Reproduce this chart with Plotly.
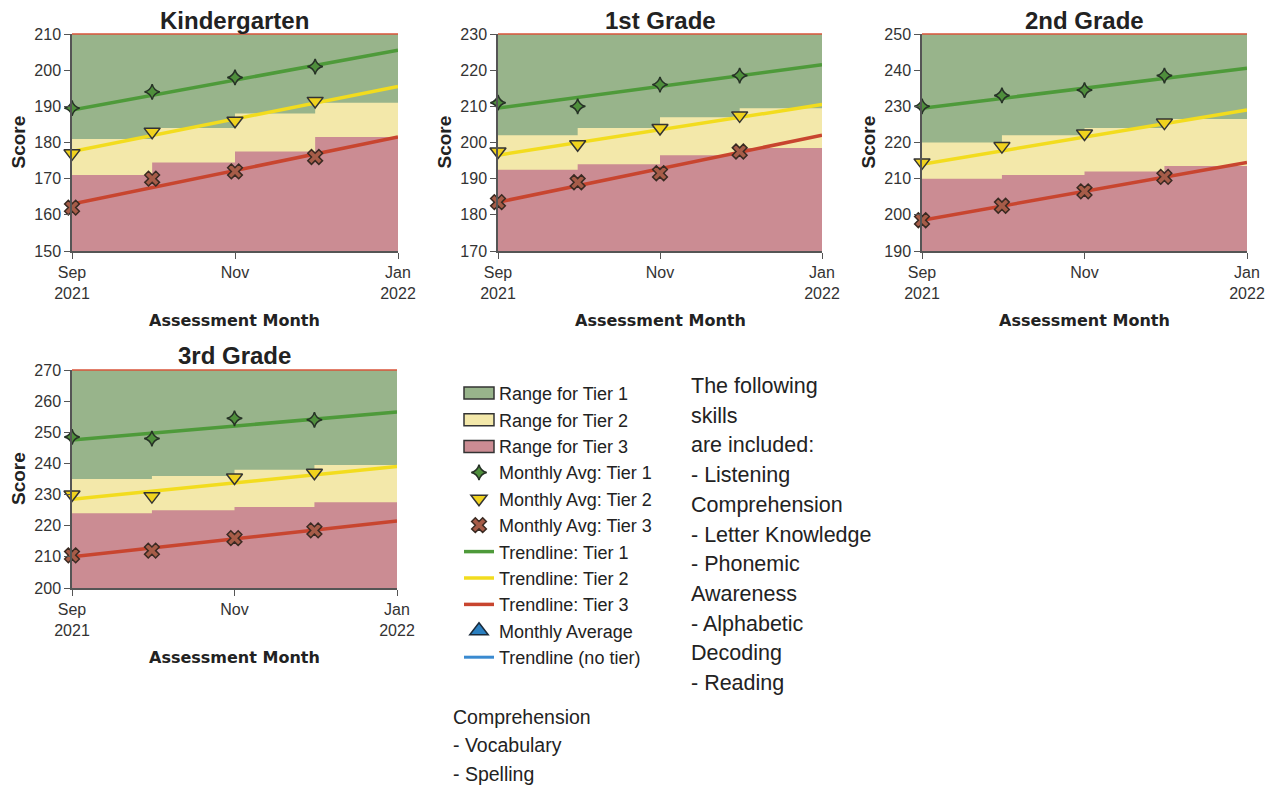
import plotly.graph_objects as go

# ---------------- data ----------------
grades = ["Kindergarten", "1st Grade", "2nd Grade", "3rd Grade"]
months = ["2021-09-01", "2021-10-01", "2021-11-01", "2021-12-01"]
band_edges = ["2021-09-01", "2021-10-01", "2021-11-01", "2021-12-01", "2022-01-01"]
trend_x = ["2021-09-01", "2022-01-01"]
tick_vals = ["2021-09-01", "2021-11-01", "2022-01-01"]
tick_text = ["Sep<br>2021", "Nov", "Jan<br>2022"]
y_min = [150, 170, 190, 200]
y_max = [210, 230, 250, 270]

k_tier1_avg = [189.5, 194, 198, 201]
k_tier2_avg = [177, 183, 186, 191.5]
k_tier3_avg = [162, 170, 172, 176]
k_tier1_trend = [189, 205.5]
k_tier2_trend = [177.5, 195.5]
k_tier3_trend = [163, 181.5]
k_tier2_top = [181, 184, 188, 191]
k_tier3_top = [171, 174.5, 177.5, 181.5]

g1_tier1_avg = [211, 210, 216, 218.5]
g1_tier2_avg = [197.5, 199.5, 204, 207.5]
g1_tier3_avg = [183.5, 189, 191.5, 197.5]
g1_tier1_trend = [209.5, 221.5]
g1_tier2_trend = [196.5, 210.5]
g1_tier3_trend = [183.5, 202]
g1_tier2_top = [202, 204, 207, 209.5]
g1_tier3_top = [192.5, 194, 196.5, 198.5]

g2_tier1_avg = [230, 233, 234.5, 238.5]
g2_tier2_avg = [214.5, 219, 222.5, 225.5]
g2_tier3_avg = [198.5, 202.5, 206.5, 210.5]
g2_tier1_trend = [229.5, 240.5]
g2_tier2_trend = [214, 229]
g2_tier3_trend = [198.5, 214.5]
g2_tier2_top = [220, 222, 224, 226.5]
g2_tier3_top = [210, 211, 212, 213.5]

g3_tier1_avg = [248.5, 248, 254.5, 254]
g3_tier2_avg = [230, 229.5, 235.5, 237]
g3_tier3_avg = [210.5, 212, 216, 218.5]
g3_tier1_trend = [247.5, 256.5]
g3_tier2_trend = [228.5, 239]
g3_tier3_trend = [210, 221.5]
g3_tier2_top = [235, 236, 238, 239.5]
g3_tier3_top = [224, 225, 226, 227.5]

legend_names = ["Range for Tier 1", "Range for Tier 2", "Range for Tier 3",
                "Monthly Avg: Tier 1", "Monthly Avg: Tier 2", "Monthly Avg: Tier 3",
                "Trendline: Tier 1", "Trendline: Tier 2", "Trendline: Tier 3",
                "Monthly Average", "Trendline (no tier)"]
note_lines = ["The following", "skills", "are included:", "- Listening", "Comprehension",
              "- Letter Knowledge", "- Phonemic", "Awareness", "- Alphabetic", "Decoding", "- Reading"]
bottom_lines = ["Comprehension", "- Vocabulary", "- Spelling"]

grade_data = [
    (k_tier1_avg, k_tier2_avg, k_tier3_avg, k_tier1_trend, k_tier2_trend, k_tier3_trend, k_tier2_top, k_tier3_top),
    (g1_tier1_avg, g1_tier2_avg, g1_tier3_avg, g1_tier1_trend, g1_tier2_trend, g1_tier3_trend, g1_tier2_top, g1_tier3_top),
    (g2_tier1_avg, g2_tier2_avg, g2_tier3_avg, g2_tier1_trend, g2_tier2_trend, g2_tier3_trend, g2_tier2_top, g2_tier3_top),
    (g3_tier1_avg, g3_tier2_avg, g3_tier3_avg, g3_tier1_trend, g3_tier2_trend, g3_tier3_trend, g3_tier2_top, g3_tier3_top),
]

# ---------------- style ----------------
W, H = 1272, 786
GREEN_BAND = "#98b48b"
YELLOW_BAND = "#f3e8aa"
RED_BAND = "#cb8c93"
T1_LINE = "#4e9a3a"
T2_LINE = "#f2dc1e"
T3_LINE = "#c8452f"
FONT = "Liberation Sans, Arial, sans-serif"


def px(x):
    return x / W


def py(y):
    return 1 - y / H


# plot areas in page pixels: (left, right, top, bottom)
areas = [(72, 398, 34, 251), (498, 822, 34, 251), (922, 1247, 34, 251), (72, 397, 370, 588)]
LEG_X, LEG_Y, LEG_ROW = 459, 375, 26.7   # legend placement (page pixels)

fig = go.Figure()

# legend-only range entries (symbol drawn as a box shape below)
for name, rank in [(legend_names[0], 1), (legend_names[1], 2), (legend_names[2], 3)]:
    fig.add_trace(go.Scatter(x=[None], y=[None], name=name, mode="lines",
                             line=dict(color="rgba(0,0,0,0)", width=0),
                             legendrank=rank, xaxis="x", yaxis="y"))

for i, (t1a, t2a, t3a, t1t, t2t, t3t, t2top, t3top) in enumerate(grade_data):
    xa = "x" if i == 0 else f"x{i+1}"
    ya = "y" if i == 0 else f"y{i+1}"
    first = i == 0
    top_vals = [y_max[i]] * (len(band_edges))
    fig.add_trace(go.Scatter(x=band_edges, y=top_vals, mode="lines", line=dict(width=0, shape="hv"),
                             fill="tozeroy", fillcolor=GREEN_BAND, showlegend=False, hoverinfo="skip",
                             xaxis=xa, yaxis=ya))
    fig.add_trace(go.Scatter(x=band_edges, y=t2top + [t2top[-1]], mode="lines",
                             line=dict(width=0, shape="hv"), fill="tozeroy", fillcolor=YELLOW_BAND,
                             showlegend=False, hoverinfo="skip", xaxis=xa, yaxis=ya))
    fig.add_trace(go.Scatter(x=band_edges, y=t3top + [t3top[-1]], mode="lines",
                             line=dict(width=0, shape="hv"), fill="tozeroy", fillcolor=RED_BAND,
                             showlegend=False, hoverinfo="skip", xaxis=xa, yaxis=ya))
    # trendlines
    for vals, col, nm, rk in [(t1t, T1_LINE, legend_names[6], 7), (t2t, T2_LINE, legend_names[7], 8),
                              (t3t, T3_LINE, legend_names[8], 9)]:
        fig.add_trace(go.Scatter(x=trend_x, y=vals, mode="lines", line=dict(color=col, width=3.5),
                                 name=nm, showlegend=first, legendrank=rk, cliponaxis=False,
                                 xaxis=xa, yaxis=ya))
    # monthly averages
    fig.add_trace(go.Scatter(x=months, y=t1a, mode="markers", name=legend_names[3], showlegend=first,
                             legendrank=4, cliponaxis=False,
                             marker=dict(symbol="star-diamond", size=11, color="#4f8f3c",
                                         line=dict(color="#263226", width=1.5)),
                             xaxis=xa, yaxis=ya))
    fig.add_trace(go.Scatter(x=months, y=t2a, mode="markers", name=legend_names[4], showlegend=first,
                             legendrank=5, cliponaxis=False,
                             marker=dict(symbol="triangle-down", size=14, color="#f0d21e",
                                         line=dict(color="#333", width=1.5)),
                             xaxis=xa, yaxis=ya))
    fig.add_trace(go.Scatter(x=months, y=t3a, mode="markers", name=legend_names[5], showlegend=first,
                             legendrank=6, cliponaxis=False,
                             marker=dict(symbol="x", size=13, color="#a65c48",
                                         line=dict(color="#3a2a22", width=1.5)),
                             xaxis=xa, yaxis=ya))

# legend-only no-tier entries
fig.add_trace(go.Scatter(x=[None], y=[None], mode="markers", name=legend_names[9], legendrank=10,
                         marker=dict(symbol="triangle-up", size=16, color="#2a7fc0",
                                     line=dict(color="#1a2a3a", width=1.5)), xaxis="x", yaxis="y"))
fig.add_trace(go.Scatter(x=[None], y=[None], mode="lines", name=legend_names[10], legendrank=11,
                         line=dict(color="#3a8ad0", width=3), xaxis="x", yaxis="y"))

layout = dict(width=W, height=H, margin=dict(l=0, r=0, t=0, b=0, autoexpand=False),
              paper_bgcolor="white", plot_bgcolor="white", font=dict(family=FONT, color="#222"))

annotations = []
shapes = []
for i, (l, r, t, b) in enumerate(areas):
    sfx = "" if i == 0 else str(i + 1)
    layout["xaxis" + sfx] = dict(domain=[px(l), px(r)], anchor="y" + sfx, type="date",
                                 range=[band_edges[0], band_edges[-1]], tickvals=tick_vals,
                                 ticktext=tick_text, showgrid=False, zeroline=False,
                                 showline=True, linecolor="#555", linewidth=1.5, ticks="outside",
                                 ticklen=6, tickcolor="#555", tickfont=dict(size=16, color="#333"),
                                 automargin=False, ticklabeloverflow="allow")
    layout["yaxis" + sfx] = dict(domain=[py(b), py(t)], anchor="x" + sfx,
                                 range=[y_min[i], y_max[i]], dtick=10, showgrid=False,
                                 zeroline=False, showline=True, linecolor="#555", linewidth=1.5,
                                 ticks="outside", ticklen=6, tickcolor="#555",
                                 tickfont=dict(size=16, color="#333"), automargin=False,
                                 ticklabeloverflow="allow")
    cx = px((l + r) / 2)
    annotations.append(dict(text="<b>" + grades[i] + "</b>", x=cx, y=py(t - 14), xref="paper",
                            yref="paper", showarrow=False, font=dict(size=24, color="#222"),
                            xanchor="center", yanchor="middle"))
    annotations.append(dict(text="<b>Assessment Month</b>", x=cx, y=py(b + 69), xref="paper",
                            yref="paper", showarrow=False,
                            font=dict(size=16, color="#222", family="DejaVu Sans"),
                            xanchor="center", yanchor="middle"))
    annotations.append(dict(text="<b>Score</b>", x=px(l - 54), y=py((t + b) / 2), xref="paper",
                            yref="paper", showarrow=False, textangle=-90,
                            font=dict(size=19, color="#222"), xanchor="center", yanchor="middle"))
    shapes.append(dict(type="line", xref="x" + sfx + " domain", yref="y" + sfx + " domain",
                       x0=0, x1=1, y0=1, y1=1, line=dict(color="#d9553a", width=1.5)))

# boxes for the range legend entries
for j, col in enumerate([GREEN_BAND, YELLOW_BAND, RED_BAND]):
    yc = LEG_Y + 18 + j * LEG_ROW
    shapes.append(dict(type="rect", xref="paper", yref="paper",
                       x0=px(LEG_X + 5), x1=px(LEG_X + 35),
                       y0=py(yc - 6), y1=py(yc + 6),
                       fillcolor=col, line=dict(color="#333", width=1.5)))

for j, line in enumerate(note_lines):
    annotations.append(dict(text=line, x=px(689), y=py(386 + j * 29.7), xref="paper",
                            yref="paper", showarrow=False, xanchor="left", yanchor="middle",
                            font=dict(size=21.5, color="#222")))
for j, line in enumerate(bottom_lines):
    annotations.append(dict(text=line, x=px(451), y=py(717 + j * 28.3), xref="paper",
                            yref="paper", showarrow=False, xanchor="left", yanchor="middle",
                            font=dict(size=19.5, color="#222")))

layout["annotations"] = annotations
layout["shapes"] = shapes
layout["legend"] = dict(x=px(LEG_X), y=py(LEG_Y), xanchor="left", yanchor="top",
                        font=dict(size=18, color="#222"), bgcolor="rgba(0,0,0,0)",
                        tracegroupgap=0, itemwidth=30)
layout["showlegend"] = True
fig.update_layout(**layout)

fig.write_html("out.html", config={"displayModeBar": False},
               post_script="document.body.style.margin='0';document.body.style.overflow='hidden';")
